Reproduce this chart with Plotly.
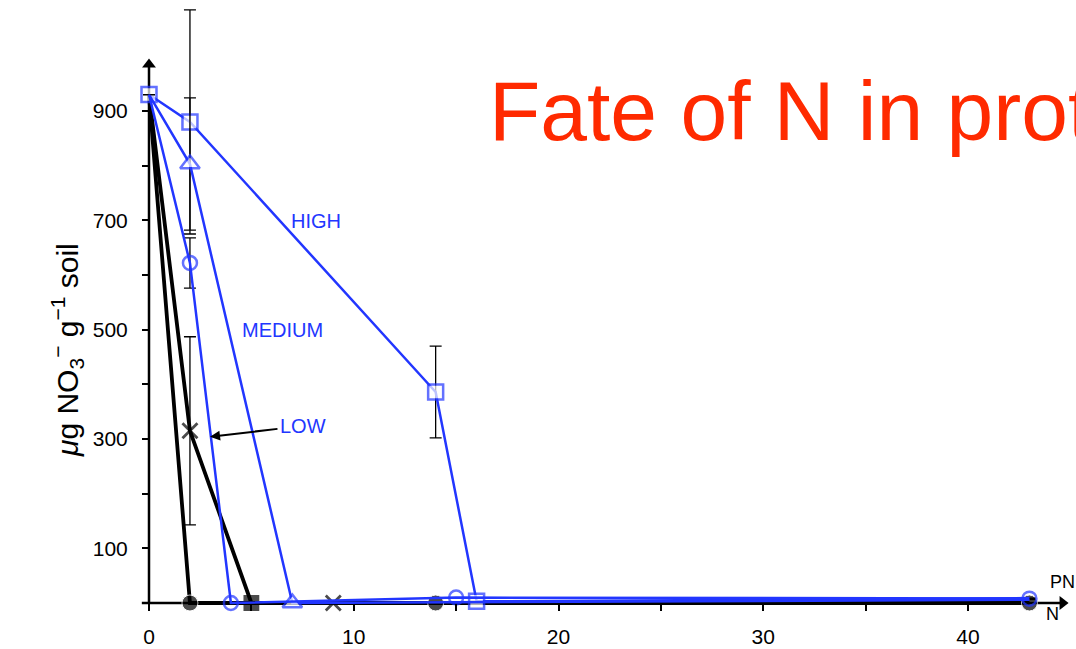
import plotly.graph_objects as go

# ---------------- data ----------------
# blue series (PN)
high_x = [0, 2, 14, 16, 43]
high_y = [930, 880, 386, 3, 9]
high_err = [0, 205, 84, 0, 0]

medium_x = [0, 2, 7, 43]
medium_y = [930, 803, 0, 6]
medium_err = [0, 121, 0, 0]

circle_x = [0, 2, 4, 15, 43]
circle_y = [930, 622, 0, 10, 8]
circle_err = [0, 46, 0, 0, 0]

# black series (N)
ndot_x = [0, 2, 14, 43]
ndot_y = [930, 0, 0, 0]

low_x = [0, 2, 5, 9]
low_y = [930, 315, 0, 0]
low_err = [0, 172, 0, 0]

x_tickvals = [0, 10, 20, 30, 40]
x_ticktext = ["0", "10", "20", "30", "40"]
x_minorvals = [5, 15, 25, 35]
y_tickvals = [100, 300, 500, 700, 900]
y_ticktext = ["100", "300", "500", "700", "900"]
y_minorvals = [0, 200, 400, 600, 800]

title_text = "Fate of N in protected"
y_title = "<i>μ</i>g NO<sub>3</sub><sup>−</sup> g<sup>−1</sup> soil"

# ---------------- figure ----------------
BLUE = "#2236ff"
BLACK = "#000000"
W, H = 1076, 649
X0PX, PXPERX = 149.0, 20.475
Y0PX, PXPERY = 603.0, 0.5467
xr = [(0 - X0PX) / PXPERX, (W - X0PX) / PXPERX]
yr = [(Y0PX - H) / PXPERY, (Y0PX - 0) / PXPERY]

fig = go.Figure()

# axis lines and arrowheads
fig.add_shape(type="line", x0=-0.35, y0=0, x1=44.6, y1=0, xref="x", yref="y",
              line=dict(color=BLACK, width=2.5), layer="below")
fig.add_shape(type="line", x0=0, y0=0, x1=0, y1=985, xref="x", yref="y",
              line=dict(color=BLACK, width=2.5), layer="below")
fig.add_trace(go.Scatter(
    x=[44.62, 0], y=[0, 985], mode="markers",
    marker=dict(symbol=["triangle-right", "triangle-up"], size=12, color=BLACK),
    cliponaxis=False, showlegend=False, hoverinfo="skip"))

fig.add_trace(go.Scatter(
    x=ndot_x, y=ndot_y, mode="lines+markers",
    line=dict(color=BLACK, width=3.8),
    marker=dict(symbol="circle", size=[0, 16, 16, 16], color=BLACK),
    cliponaxis=False, showlegend=False))

fig.add_trace(go.Scatter(
    x=low_x, y=low_y, mode="lines+markers",
    line=dict(color=BLACK, width=3.8),
    marker=dict(symbol=["x-thin", "x-thin", "square", "x-thin"], size=[0, 15, 13, 15],
                color=BLACK, line=dict(color=BLACK, width=2.8)),
    error_y=dict(type="data", array=low_err, color=BLACK, thickness=1.3, width=6),
    cliponaxis=False, showlegend=False))

fig.add_trace(go.Scatter(
    x=high_x, y=high_y, mode="lines+markers",
    line=dict(color=BLUE, width=2.5),
    marker=dict(symbol="square", size=[15, 15, 15, 15, 0], color="white",
                line=dict(width=2.5, color=BLUE)),
    error_y=dict(type="data", array=high_err, color=BLACK, thickness=1.3, width=6),
    cliponaxis=False, showlegend=False))

fig.add_trace(go.Scatter(
    x=medium_x, y=medium_y, mode="lines+markers",
    line=dict(color=BLUE, width=2.5),
    marker=dict(symbol="triangle-up", size=[0, 17, 17, 0], color="white",
                line=dict(width=2.5, color=BLUE)),
    error_y=dict(type="data", array=medium_err, color=BLACK, thickness=1.3, width=6),
    cliponaxis=False, showlegend=False))

fig.add_trace(go.Scatter(
    x=circle_x, y=circle_y, mode="lines+markers",
    line=dict(color=BLUE, width=2.5),
    marker=dict(symbol="circle-open", size=[0, 14, 14, 14, 14], color=BLUE, line=dict(width=2.5)),
    error_y=dict(type="data", array=circle_err, color=BLACK, thickness=1.3, width=6),
    cliponaxis=False, showlegend=False))

annotations = [
    # series labels
    dict(x=8.16, y=699, xref="x", yref="y", text="HIGH", showarrow=False,
         font=dict(color=BLUE, size=20, family="Liberation Sans")),
    dict(x=6.5, y=499, xref="x", yref="y", text="MEDIUM", showarrow=False,
         font=dict(color=BLUE, size=20, family="Liberation Sans")),
    dict(x=2.98, y=304, ax=7.52, ay=324, xref="x", yref="y", axref="x", ayref="y",
         text="LOW", showarrow=True, arrowhead=2, arrowsize=1, arrowwidth=2,
         arrowcolor=BLACK, standoff=0, borderpad=2,
         font=dict(color=BLUE, size=20, family="Liberation Sans")),
    # PN / N labels
    dict(x=44.6, y=38, xref="x", yref="y", text="PN", showarrow=False,
         font=dict(color=BLACK, size=18, family="Liberation Sans")),
    dict(x=44.15, y=-20, xref="x", yref="y", text="N", showarrow=False,
         font=dict(color=BLACK, size=18, family="Liberation Sans")),
    # y title
    dict(x=44 / W, y=1 - 350 / H, xref="paper", yref="paper", text=y_title, textangle=-90,
         showarrow=False, font=dict(color=BLACK, size=30, family="Liberation Sans")),
    # big title
    dict(x=487 / W, y=1 - 111 / H, xref="paper", yref="paper", text=title_text,
         xanchor="left", yanchor="middle", showarrow=False,
         font=dict(color="#ff2a00", size=84, family="Liberation Sans")),
]

fig.update_layout(
    width=W, height=H,
    margin=dict(l=0, r=0, t=0, b=0),
    paper_bgcolor="white", plot_bgcolor="white",
    xaxis=dict(range=xr, domain=[0, 1], anchor="free", position=(H - Y0PX) / H,
               showgrid=False, zeroline=False, showline=False,
               tickmode="array", tickvals=x_tickvals, ticktext=x_ticktext,
               ticks="outside", ticklen=7, tickwidth=2, tickcolor=BLACK,
               minor=dict(tickvals=x_minorvals, ticks="outside", ticklen=7,
                          tickwidth=2, tickcolor=BLACK, showgrid=False),
               ticklabelstandoff=8,
               tickfont=dict(size=21, color=BLACK, family="Liberation Sans")),
    yaxis=dict(range=yr, domain=[0, 1], anchor="free", position=X0PX / W,
               showgrid=False, zeroline=False, showline=False,
               tickmode="array", tickvals=y_tickvals, ticktext=y_ticktext,
               ticks="outside", ticklen=7, tickwidth=2, tickcolor=BLACK,
               minor=dict(tickvals=y_minorvals, ticks="outside", ticklen=7,
                          tickwidth=2, tickcolor=BLACK, showgrid=False),
               ticklabelstandoff=10,
               tickfont=dict(size=21, color=BLACK, family="Liberation Sans")),
    annotations=annotations,
    showlegend=False,
)

fig.write_html("out.html")
